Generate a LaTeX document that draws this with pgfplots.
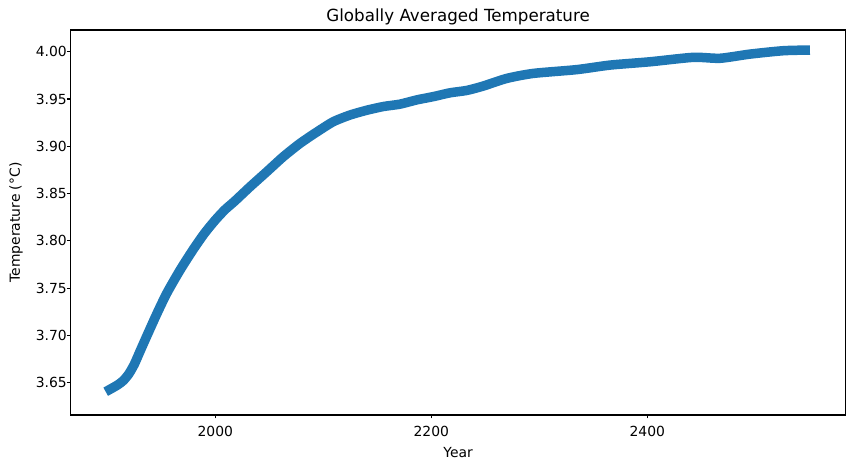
\documentclass[border=0pt]{standalone}
\usepackage{fontspec}
\setmainfont{DejaVu Sans}
\usepackage{pgfplots}
\pgfplotsset{compat=1.18}
\definecolor{tabblue}{HTML}{1F77B4}
\begin{document}
\begin{tikzpicture}
\path[use as bounding box] (-70.5pt,-53pt) rectangle (784.5pt,415pt);
\begin{axis}[
  at={(0,0)}, anchor=south west,
  scale only axis, width=775.2pt, height=385pt,
  xmin=1865.9, xmax=2583.7, ymin=3.6159, ymax=4.0229,
  xtick={2000,2200,2400},
  ytick={3.65,3.70,3.75,3.80,3.85,3.90,3.95,4.00},
  tick align=outside, tick pos=left,
  major tick length=3.5pt,
  axis line style={line width=1.1pt},
  every tick/.style={line width=1.1pt, black},
  /pgf/number format/assume math mode=true,
  tick label style={font=\fontsize{13.9}{16}\selectfont, inner sep=0pt},
  xticklabel style={/pgf/number format/1000 sep={}, yshift=-7pt},
  yticklabel style={/pgf/number format/.cd, fixed, fixed zerofill, precision=2},
  title={Globally Averaged Temperature},
  title style={font=\fontsize{16.7}{20}\selectfont, at={(axis description cs:0.5,1.006)}, anchor=base},
  xlabel={Year},
  xlabel style={font=\fontsize{13.9}{16}\selectfont, at={(axis description cs:0.5,-0.0987)}, anchor=center},
  ylabel={Temperature (°C)},
  ylabel style={font=\fontsize{13.9}{16}\selectfont, at={(axis description cs:-0.0703,0.5)}, anchor=center},
]
\addplot[tabblue, line width=9.5pt, line join=round, line cap=butt, smooth, tension=0.4] table {
x y
1898.5 3.6405
1904.0 3.6440
1910.0 3.6480
1915.0 3.6525
1920.0 3.6595
1925.0 3.6695
1930.0 3.6825
1937.0 3.7005
1945.7 3.7225
1955.0 3.7445
1967.3 3.7690
1979.6 3.7910
1990.0 3.8080
2000.0 3.8220
2009.0 3.8330
2018.0 3.8420
2032.0 3.8570
2047.6 3.8730
2063.0 3.8890
2078.4 3.9030
2093.9 3.9150
2109.3 3.9260
2124.7 3.9330
2140.0 3.9380
2155.6 3.9420
2171.0 3.9445
2186.5 3.9490
2202.0 3.9525
2217.3 3.9565
2232.8 3.9590
2248.0 3.9636
2269.8 3.9717
2294.4 3.9770
2334.6 3.9810
2365.5 3.9858
2402.5 3.9893
2442.6 3.9940
2467.3 3.9930
2495.0 3.9974
2526.0 4.0010
2550.6 4.0017
};
\end{axis}
\end{tikzpicture}
\end{document}
